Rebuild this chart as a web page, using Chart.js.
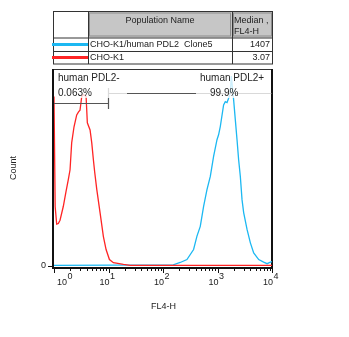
<!DOCTYPE html>
<html>
<head>
<meta charset="utf-8">
<script src="https://cdn.jsdelivr.net/npm/chart.js@4/dist/chart.umd.min.js"></script>
<style>
  html, body { margin: 0; padding: 0; background: #fff; }
  canvas { display: block; }
</style>
</head>
<body>
<canvas id="histo" width="349" height="337"></canvas>
<script>
// FL4-H histogram, two overlaid populations
var decades = [1, 10, 100, 1000, 10000];
var decadeExp = ['0', '1', '2', '3', '4'];

var redX = [1, 1.05, 1.12, 1.2, 1.29, 1.48, 1.66, 1.83, 1.97, 2.11, 2.33, 2.61, 2.82, 3.0, 3.23, 3.48, 3.88, 4.09, 4.59, 4.93, 5.28, 5.57, 6.1, 7.0, 8.06, 9.03, 10.4, 12.3, 18.8, 25, 10000];
var redY = [86, 30, 21, 21.3, 23, 30, 37.6, 43.7, 48.7, 62.4, 70.6, 76.6, 78.2, 79, 86, 87, 86, 72.6, 69, 62.4, 53.8, 47.7, 38.6, 26.9, 14.7, 8.1, 3.0, 1.4, 0.5, 0, 0];

var blueX = [1, 154, 207, 275, 364, 420, 483, 556, 641, 738, 848, 979, 1047, 1125, 1294, 1390, 1496, 1600, 1719, 1794, 1977, 2124, 2282, 2442, 2624, 2818, 3020, 3484, 4010, 4613, 5704, 7031, 8128, 9350, 10000];
var blueY = [0, 0.3, 1.5, 3.0, 8.1, 14.9, 19.9, 30.1, 38.6, 45.3, 55.5, 64, 66.5, 70.7, 81.7, 83.4, 82.9, 85.1, 87.7, 96.4, 84.3, 74.1, 64, 53.8, 45.3, 33.5, 26.9, 18.3, 11.5, 6.4, 3.0, 1.7, 0.9, 1.7, 2.0];

var populations = ['CHO-K1/human PDL2  Clone5', 'CHO-K1'];
var medians = ['1407', '3.07'];
var popColors = ['#1cb8f2', '#ff2424'];

var gateNames = ['human PDL2-', 'human PDL2+'];
var gatePct = ['0.063%', '99.9%'];
var gateNeg = [1, 10];
var gatePos = [10, 10000];

var FONT = "'Liberation Sans', Arial, sans-serif";

function pts(xs, ys) {
  return xs.map(function (x, i) { return { x: x, y: ys[i] }; });
}

var statsTable = {
  id: 'statsTable',
  afterDraw: function (chart) {
    var c = chart.ctx;
    var x0 = 53, x1 = 88, x2 = 232, x3 = 273;
    var y0 = 11.5, y1 = 37.5, y2 = 51, y3 = 64;
    c.save();
    // header cells
    c.fillStyle = '#c6c6c6';
    c.fillRect(x1, y0, x3 - x1, y1 - y0);
    c.strokeStyle = '#8c8c8c';
    c.lineWidth = 1;
    c.strokeRect(x1 + 1.5, y0 + 1.5, x2 - x1 - 3, y1 - y0 - 3);
    c.strokeRect(x2 + 1.5, y0 + 1.5, x3 - x2 - 3, y1 - y0 - 3);
    // grid
    c.strokeStyle = '#333';
    c.strokeRect(x0 + 0.5, y0, x3 - x0 - 1, y3 - y0);
    c.beginPath();
    [y1, y2].forEach(function (y) { c.moveTo(x0, y + 0.5); c.lineTo(x3, y + 0.5); });
    [x1, x2].forEach(function (x) { c.moveTo(x + 0.5, y0); c.lineTo(x + 0.5, y3); });
    c.stroke();
    // legend swatches
    var rows = [44.5, 57.5];
    rows.forEach(function (y, i) {
      c.strokeStyle = popColors[i];
      c.lineWidth = 3;
      c.beginPath();
      c.moveTo(x0 - 1, y);
      c.lineTo(x1, y);
      c.stroke();
    });
    // text
    c.fillStyle = '#222';
    c.font = '9px ' + FONT;
    c.textBaseline = 'middle';
    c.textAlign = 'center';
    c.fillText('Population Name', (x1 + x2) / 2, 20.5);
    c.textAlign = 'left';
    c.fillText('Median ,', x2 + 2, 20.5);
    c.fillText('FL4-H', x2 + 2, 32);
    rows.forEach(function (y, i) {
      c.textAlign = 'left';
      c.fillText(populations[i], x1 + 2, y);
      c.textAlign = 'right';
      c.fillText(medians[i], x3 - 3, y);
    });
    c.restore();
  }
};

var frameAxes = {
  id: 'frameAxes',
  beforeDatasetsDraw: function (chart) {
    var c = chart.ctx, a = chart.chartArea;
    var xs = chart.scales.x, ys = chart.scales.y;
    c.save();
    c.strokeStyle = '#333';
    c.lineWidth = 1;
    c.beginPath();
    c.moveTo(a.left, a.top + 0.5);
    c.lineTo(a.right, a.top + 0.5);
    c.stroke();
    c.strokeStyle = '#111';
    c.lineWidth = 2;
    c.beginPath();
    c.moveTo(a.left - 1, a.top);
    c.lineTo(a.left - 1, a.bottom + 1);
    c.lineTo(a.right, a.bottom + 1);
    c.lineTo(a.right, a.top);
    c.stroke();
    // x ticks: decades long, 2..9 short
    c.lineWidth = 1;
    c.beginPath();
    decades.forEach(function (d, i) {
      var px = Math.round(xs.getPixelForValue(d)) + 0.5;
      c.moveTo(px, a.bottom);
      c.lineTo(px, a.bottom + 6);
      if (i < decades.length - 1) {
        for (var k = 2; k <= 9; k++) {
          var mx = Math.round(xs.getPixelForValue(d * k)) + 0.5;
          c.moveTo(mx, a.bottom);
          c.lineTo(mx, a.bottom + 4);
        }
      }
    });
    // y tick at zero
    var y0 = Math.round(ys.getPixelForValue(0)) + 0.5;
    c.moveTo(a.left - 6, y0 + 1);
    c.lineTo(a.left, y0 + 1);
    c.stroke();
    // tick labels
    c.fillStyle = '#222';
    c.textBaseline = 'middle';
    c.font = '9px ' + FONT;
    c.textAlign = 'right';
    c.fillText('0', a.left - 8, y0);
    decades.forEach(function (d, i) {
      var px = xs.getPixelForValue(d);
      c.font = '9px ' + FONT;
      var w = c.measureText('10').width;
      var left = Math.max(px - w + 1, a.left + 3);
      c.textAlign = 'left';
      c.fillText('10', left, a.bottom + 16);
      c.font = '9px ' + FONT;
      c.fillText(decadeExp[i], left + w + 0.5, a.bottom + 10);
    });
    // axis titles
    c.textAlign = 'center';
    c.fillText('FL4-H', (a.left + a.right) / 2 + 0.5, 307);
    c.translate(14, (a.top + a.bottom) / 2);
    c.rotate(-Math.PI / 2);
    c.fillText('Count', 0, 0);
    c.restore();
  },
  afterDatasetsDraw: function (chart) {
    var c = chart.ctx, a = chart.chartArea;
    var xs = chart.scales.x;
    c.save();
    c.strokeStyle = '#555';
    c.lineWidth = 1.2;
    // negative gate
    var n0 = xs.getPixelForValue(gateNeg[0]), n1 = xs.getPixelForValue(gateNeg[1]);
    c.beginPath();
    c.moveTo(n0, 103.5);
    c.lineTo(n1, 103.5);
    c.moveTo(n1, 98);
    c.lineTo(n1, 109);
    // positive gate
    var p0 = xs.getPixelForValue(gatePos[0]), p1 = xs.getPixelForValue(gatePos[1]);
    c.moveTo(p0, 93.5);
    c.lineTo(p1, 93.5);
    c.moveTo(p0, 88);
    c.lineTo(p0, 99);
    c.stroke();
    // translucent label boxes
    c.fillStyle = 'rgba(255,255,255,0.78)';
    c.fillRect(a.left + 1, a.top + 2, 72, 27);
    c.fillRect(196, a.top + 2, a.right - 197, 27);
    c.fillStyle = '#222';
    c.font = '10px ' + FONT;
    c.textBaseline = 'middle';
    c.textAlign = 'left';
    c.fillText(gateNames[0], 58, 78.5);
    c.fillText(gatePct[0], 58, 93);
    c.fillText(gateNames[1], 200, 78.5);
    c.fillText(gatePct[1], 210, 93);
    c.restore();
  }
};

var chart = new Chart(document.getElementById('histo').getContext('2d'), {
  type: 'line',
  data: {
    datasets: [{
      label: populations[1],
      data: pts(redX, redY),
      borderColor: popColors[1],
      borderWidth: 1.3,
      pointRadius: 0,
      tension: 0,
      fill: false
    }, {
      label: populations[0],
      data: pts(blueX, blueY),
      borderColor: popColors[0],
      borderWidth: 1.3,
      pointRadius: 0,
      tension: 0,
      fill: false
    }]
  },
  options: {
    responsive: false,
    animation: false,
    devicePixelRatio: 1,
    layout: { padding: { top: 69, right: 77, left: 0, bottom: 0 } },
    plugins: { legend: { display: false }, tooltip: { enabled: false } },
    scales: {
      x: {
        type: 'logarithmic',
        min: 1,
        max: 10000,
        ticks: { display: false },
        grid: { display: false },
        border: { display: false },
        afterFit: function (s) { s.height = 70; }
      },
      y: {
        min: -0.8,
        max: 100,
        ticks: { display: false },
        grid: { display: false },
        border: { display: false },
        afterFit: function (s) { s.width = 54; }
      }
    }
  },
  plugins: [statsTable, frameAxes]
});
</script>
</body>
</html>
